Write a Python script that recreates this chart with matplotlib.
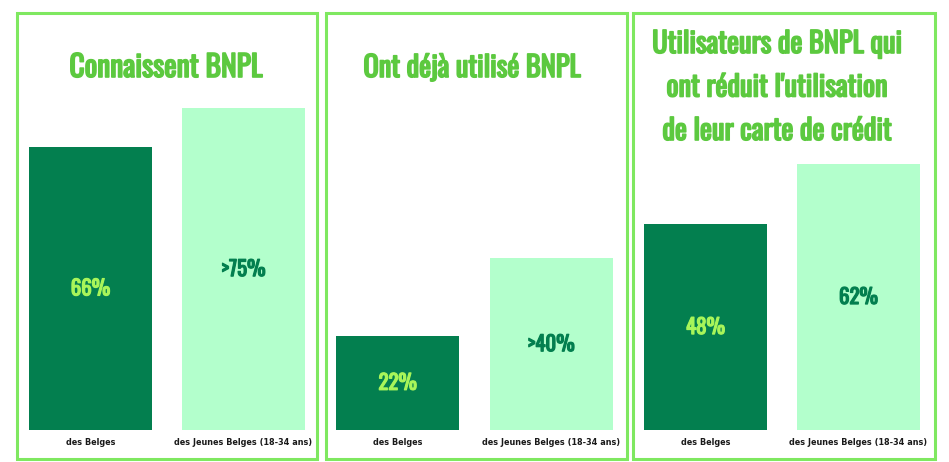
import matplotlib.pyplot as plt
import matplotlib.patheffects as pe
from matplotlib.patches import Rectangle

W, H = 949, 462

titles = ["Connaissent BNPL",
          "Ont déjà utilisé BNPL",
          "Utilisateurs de BNPL qui\nont réduit l'utilisation\nde leur carte de crédit"]
categories = ["des Belges", "des Jeunes Belges (18-34 ans)"]
values = [[66, 75], [22, 40], [48, 62]]
value_labels = [["66%", ">75%"], ["22%", ">40%"], ["48%", "62%"]]

dark = "#037F4F"
light = "#B3FFCC"
border = "#7FE860"
title_col = "#5CC93F"
dark_txt = "#A8F55A"

cond = ["Oswald", "DejaVu Sans"]

# panel frames (pixels: left, right), bar axes extents, title centre / first baseline
frames = [(17, 317), (326, 627), (633, 935)]
axes_x = [(29, 305), (336, 613), (644, 920)]
title_x = [166, 472, 777]
title_base = [77, 77, 53]
title_size = [21.3, 20.5, 20.5]

fig = plt.figure(figsize=(W / 100, H / 100), dpi=100)

for i in range(3):
    l, r = frames[i]
    fig.patches.append(Rectangle((l / W, (H - 459) / H), (r - l) / W, (459 - 13) / H,
                                 transform=fig.transFigure, fill=False,
                                 edgecolor=border, linewidth=2.2))
    a0, a1 = axes_x[i]
    ax = fig.add_axes([a0 / W, (H - 430) / H, (a1 - a0) / W, 429 / H])
    ax.bar([0, 1], values[i], width=0.804, color=[dark, light])
    ax.set_xlim(-0.402, 1.402)
    ax.set_ylim(0, 100)
    for s in ax.spines.values():
        s.set_visible(False)
    ax.set_yticks([])
    ax.set_xticks([0, 1])
    ax.set_xticklabels(categories, fontsize=5.9, fontweight="bold", color="#1a1a1a")
    ax.tick_params(axis="x", length=0, pad=6)
    for j in range(2):
        c = dark_txt if j == 0 else dark
        ax.text(j, values[i][j] / 2, value_labels[i][j], ha="center", va="center",
                fontsize=15, fontweight="bold", family=cond, color=c,
                path_effects=[pe.withStroke(linewidth=0.9, foreground=c)])
    for k, line in enumerate(titles[i].split("\n")):
        y = title_base[i] + 43.5 * k
        fig.text(title_x[i] / W, 1 - y / H, line, ha="center", va="baseline",
                 fontsize=title_size[i], fontweight="bold", family=cond, color=title_col,
                 path_effects=[pe.withStroke(linewidth=1.2, foreground=title_col)])

fig.savefig("out.png", dpi=100)
